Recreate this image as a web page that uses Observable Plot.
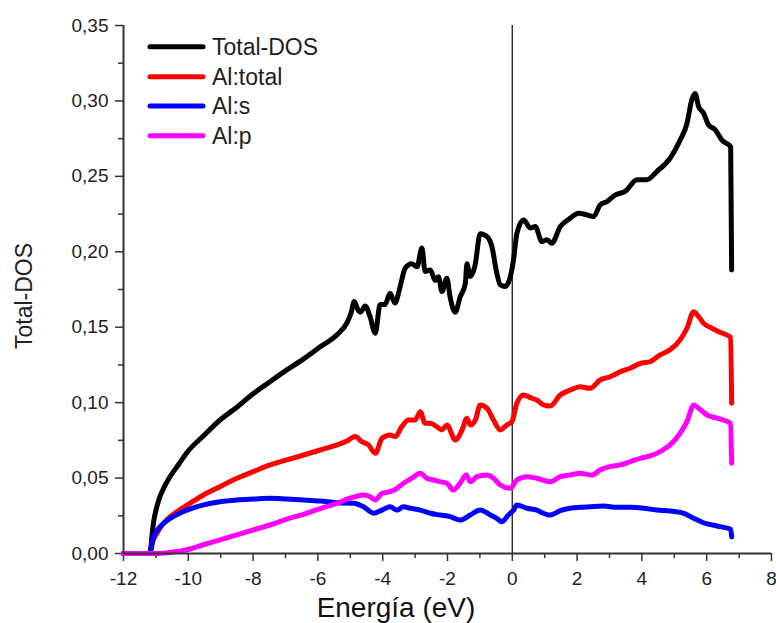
<!DOCTYPE html>
<html>
<head>
<meta charset="utf-8">
<script src="https://cdn.jsdelivr.net/npm/d3@7"></script>
<script src="https://cdn.jsdelivr.net/npm/@observablehq/plot@0.6"></script>
<style>
  html, body { margin: 0; padding: 0; background: #fff; }
  #chart { width: 776px; height: 623px; }
</style>
</head>
<body>
<div id="chart"></div>
<script>
// ---- Data ----
const totalDosE = [-12, -11.2, -11.15, -11.12, -11.07, -10.97, -10.87, -10.72, -10.56, -10.3, -10.04, -9.53, -9.02, -8.5, -7.99, -7.47, -6.96, -6.44, -5.93, -5.41, -5.1, -4.97, -4.88, -4.75, -4.69, -4.54, -4.39, -4.23, -4.08, -3.93, -3.77, -3.62, -3.46, -3.31, -3.10, -2.94, -2.79, -2.69, -2.53, -2.38, -2.28, -2.17, -2.02, -1.92, -1.76, -1.61, -1.45, -1.40, -1.30, -1.15, -0.99, -0.78, -0.63, -0.48, -0.37, -0.22, -0.06, 0.04, 0.14, 0.35, 0.56, 0.71, 0.91, 1.07, 1.22, 1.48, 1.79, 2.04, 2.30, 2.51, 2.71, 2.92, 3.18, 3.48, 3.85, 4.15, 4.46, 4.87, 5.18, 5.39, 5.54, 5.64, 5.75, 5.90, 6.06, 6.26, 6.47, 6.74, 6.77];
const totalDosV = [0, 0, 0.005, 0.012, 0.021, 0.031, 0.038, 0.045, 0.051, 0.059, 0.067, 0.078, 0.0885, 0.097, 0.106, 0.114, 0.1217, 0.129, 0.137, 0.145, 0.153, 0.160, 0.167, 0.161, 0.160, 0.164, 0.157, 0.146, 0.165, 0.165, 0.1725, 0.166, 0.177, 0.189, 0.192, 0.190, 0.2025, 0.187, 0.188, 0.181, 0.1835, 0.1736, 0.1825, 0.170, 0.160, 0.170, 0.179, 0.192, 0.1836, 0.191, 0.212, 0.210, 0.2035, 0.186, 0.178, 0.177, 0.1836, 0.195, 0.212, 0.221, 0.2157, 0.2167, 0.2068, 0.208, 0.2057, 0.2167, 0.2223, 0.2256, 0.2245, 0.2233, 0.231, 0.2333, 0.2377, 0.240, 0.2477, 0.2477, 0.2532, 0.262, 0.274, 0.285, 0.3007, 0.305, 0.2963, 0.292, 0.284, 0.281, 0.274, 0.2695, 0.188];

const alTotalE = [-12, -11.2, -11.1, -10.97, -10.8, -10.56, -10.3, -10.04, -9.53, -9.02, -8.5, -7.99, -7.47, -6.96, -6.44, -5.93, -5.41, -5.1, -4.85, -4.64, -4.44, -4.23, -4.02, -3.77, -3.61, -3.41, -3.20, -3.0, -2.84, -2.69, -2.53, -2.33, -2.17, -2.02, -1.76, -1.55, -1.40, -1.30, -1.14, -0.99, -0.78, -0.58, -0.37, -0.17, -0.01, 0.14, 0.35, 0.60, 0.76, 0.96, 1.17, 1.48, 1.79, 2.09, 2.40, 2.71, 3.02, 3.33, 3.64, 3.95, 4.26, 4.56, 4.87, 5.18, 5.39, 5.60, 5.75, 5.90, 6.16, 6.37, 6.74, 6.77];
const alTotalV = [0, 0, 0.008, 0.0134, 0.019, 0.0244, 0.0285, 0.032, 0.0388, 0.0443, 0.0499, 0.0543, 0.0587, 0.062, 0.0653, 0.0686, 0.072, 0.0745, 0.0775, 0.0741, 0.072, 0.0664, 0.0764, 0.0786, 0.0775, 0.0841, 0.0885, 0.0885, 0.094, 0.0863, 0.0863, 0.0841, 0.0819, 0.0852, 0.0753, 0.0819, 0.0897, 0.0852, 0.0885, 0.0985, 0.0963, 0.0885, 0.0819, 0.0852, 0.0874, 0.0996, 0.1051, 0.1029, 0.1018, 0.0985, 0.0978, 0.1051, 0.1084, 0.1106, 0.1095, 0.115, 0.1172, 0.1205, 0.1228, 0.1261, 0.1272, 0.1316, 0.135, 0.1416, 0.1493, 0.1603, 0.157, 0.1527, 0.1493, 0.147, 0.1435, 0.0996];

const alSE = [-12, -11.2, -11.12, -11.07, -10.97, -10.87, -10.56, -10.3, -10.04, -9.53, -9.02, -8.5, -7.99, -7.47, -6.96, -6.44, -5.93, -5.41, -4.90, -4.59, -4.28, -4.02, -3.77, -3.56, -3.36, -3.15, -2.84, -2.53, -2.23, -1.92, -1.61, -1.30, -0.99, -0.73, -0.48, -0.32, -0.12, 0.04, 0.14, 0.45, 0.76, 0.86, 1.17, 1.48, 1.79, 2.09, 2.40, 2.81, 3.23, 3.64, 4.05, 4.46, 4.87, 5.28, 5.60, 5.90, 6.32, 6.74, 6.77];
const alSV = [0, 0, 0.006, 0.011, 0.015, 0.0178, 0.0233, 0.0264, 0.0288, 0.0322, 0.0343, 0.0355, 0.0361, 0.0366, 0.0361, 0.0355, 0.0348, 0.0337, 0.0333, 0.031, 0.0267, 0.0288, 0.031, 0.0288, 0.031, 0.030, 0.0288, 0.0267, 0.0255, 0.0244, 0.0222, 0.0255, 0.0288, 0.0262, 0.0233, 0.0211, 0.0255, 0.0288, 0.0322, 0.030, 0.0288, 0.0277, 0.0255, 0.0284, 0.030, 0.0306, 0.031, 0.0315, 0.0306, 0.0306, 0.030, 0.0288, 0.0282, 0.0267, 0.0233, 0.0204, 0.0182, 0.016, 0.0111];

const alPE = [-12, -11.17, -10.8, -10.56, -10.04, -9.53, -9.02, -8.5, -7.99, -7.47, -6.96, -6.44, -5.93, -5.41, -5.10, -4.85, -4.59, -4.39, -4.23, -4.02, -3.77, -3.56, -3.36, -3.10, -2.84, -2.64, -2.43, -2.23, -2.02, -1.82, -1.61, -1.42, -1.30, -1.09, -0.78, -0.58, -0.37, -0.06, 0.14, 0.45, 0.76, 1.17, 1.48, 1.79, 2.09, 2.46, 2.71, 3.02, 3.33, 3.64, 3.95, 4.26, 4.56, 4.87, 5.18, 5.39, 5.60, 5.75, 6.01, 6.32, 6.74, 6.77];
const alPV = [0, 0, 0.0002, 0.0007, 0.0025, 0.0058, 0.009, 0.0124, 0.0157, 0.019, 0.0228, 0.026, 0.0298, 0.0333, 0.036, 0.0377, 0.0388, 0.0377, 0.0355, 0.0399, 0.041, 0.0432, 0.0466, 0.0499, 0.0532, 0.0499, 0.0487, 0.0476, 0.0466, 0.0421, 0.0466, 0.052, 0.0476, 0.0509, 0.052, 0.0499, 0.0454, 0.0432, 0.0487, 0.0509, 0.0499, 0.0476, 0.0509, 0.052, 0.0532, 0.052, 0.0554, 0.0576, 0.0587, 0.0609, 0.0631, 0.0647, 0.0675, 0.072, 0.0797, 0.0874, 0.0985, 0.0963, 0.0918, 0.0897, 0.0863, 0.0598];

const seriesNames = ["Total-DOS", "Al:total", "Al:s", "Al:p"];
const seriesColors = ["#000000", "#ff0000", "#0000ff", "#ff00ff"];
const xMajorTicks = [-12, -10, -8, -6, -4, -2, 0, 2, 4, 6, 8];
const xMinorTicks = [-11, -9, -7, -5, -3, -1, 1, 3, 5, 7];
const yMajorTicks = [0, 0.05, 0.10, 0.15, 0.20, 0.25, 0.30, 0.35];
const yMinorTicks = [0.025, 0.075, 0.125, 0.175, 0.225, 0.275, 0.325];
const xTitle = "Energía (eV)";
const yTitle = "Total-DOS";

// ---- Build tables ----
const zipSeries = (E, V) => E.map((e, i) => ({e, v: V[i]}));
const series = [
  zipSeries(totalDosE, totalDosV),
  zipSeries(alTotalE, alTotalV),
  zipSeries(alSE, alSV),
  zipSeries(alPE, alPV)
];

const axisColor = "#333";
const font = "'Liberation Sans', Arial, sans-serif";

const plot = Plot.plot({
  width: 776,
  height: 623,
  marginLeft: 123,
  marginRight: 5,
  marginTop: 25,
  marginBottom: 70,
  x: {domain: [-12, 8]},
  y: {domain: [0, 0.35]},
  style: {fontFamily: font, fontSize: "19px", color: "#222", background: "white", overflow: "visible"},
  marks: [
    Plot.axisX({ticks: xMinorTicks, tickSize: 5, tickFormat: () => "", label: null, stroke: axisColor, strokeWidth: 1.5}),
    Plot.axisX({ticks: xMajorTicks, tickSize: 8, tickPadding: 10, tickFormat: d => String(d), label: null, stroke: axisColor, strokeWidth: 1.5, fontSize: 19, fill: "#222"}),
    Plot.axisY({ticks: yMinorTicks, tickSize: 5, tickFormat: () => "", label: null, stroke: axisColor, strokeWidth: 1.5}),
    Plot.axisY({ticks: yMajorTicks, tickSize: 8, tickPadding: 7, tickFormat: d => d.toFixed(2).replace(".", ","), label: null, stroke: axisColor, strokeWidth: 1.5, fontSize: 19, fill: "#222"}),
    Plot.ruleX([0], {stroke: axisColor, strokeWidth: 1.5}),
    ...series.map((s, i) => Plot.line(s, {x: "e", y: "v", stroke: seriesColors[i], strokeWidth: 5, strokeLinejoin: "round", strokeLinecap: "round", curve: "monotone-x"})),
    Plot.ruleY([0], {stroke: axisColor, strokeWidth: 2}),
    Plot.ruleX([-12], {stroke: axisColor, strokeWidth: 2})
  ]
});

const svg = d3.select(plot);

// Axis titles
svg.append("text")
  .attr("x", 396).attr("y", 617)
  .attr("text-anchor", "middle")
  .style("font-family", font).style("font-size", "28px").attr("fill", "#111")
  .text(xTitle);

svg.append("text")
  .attr("transform", "translate(32,296) rotate(-90)")
  .attr("text-anchor", "middle")
  .style("font-family", font).style("font-size", "23px").attr("fill", "#222")
  .text(yTitle);

// Legend
const legendRowsY = [46.7, 76.7, 106, 135.7];
const lg = svg.append("g").attr("text-anchor", "start");
seriesNames.forEach((name, i) => {
  lg.append("line")
    .attr("x1", 150).attr("x2", 203)
    .attr("y1", legendRowsY[i]).attr("y2", legendRowsY[i])
    .attr("stroke", seriesColors[i]).attr("stroke-width", 5).attr("stroke-linecap", "round");
  lg.append("text")
    .attr("x", 212).attr("y", legendRowsY[i]).attr("dy", "0.36em")
    .attr("text-anchor", "start")
    .style("font-family", font).style("font-size", "23px").attr("fill", "#222")
    .text(name);
});

document.getElementById("chart").appendChild(plot);
</script>
</body>
</html>
